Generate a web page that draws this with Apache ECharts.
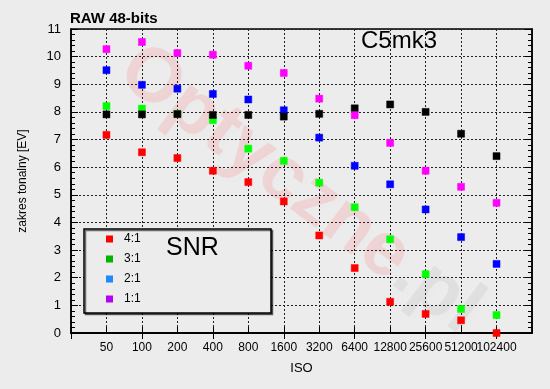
<!DOCTYPE html>
<html>
<head>
<meta charset="utf-8">
<script src="https://cdn.jsdelivr.net/npm/echarts@6/dist/echarts.min.js"></script>
<style>html,body{margin:0;padding:0;background:#ececec;}#c{width:550px;height:389px;}</style>
</head>
<body>
<div id="c"></div>
<script>
const isoLabels = ['50','100','200','400','800','1600','3200','6400','12800','25600','51200','102400'];
const snr41 = [7.17, 6.54, 6.33, 5.87, 5.46, 4.76, 3.53, 2.35, 1.13, 0.69, 0.46, 0.00];
const snr31 = [8.21, 8.12, 7.93, 7.70, 6.67, 6.23, 5.44, 4.55, 3.39, 2.13, 0.87, 0.65];
const snr21 = [9.51, 8.98, 8.84, 8.65, 8.45, 8.06, 7.07, 6.05, 5.38, 4.47, 3.47, 2.50];
const snr11 = [10.27, 10.53, 10.13, 10.07, 9.67, 9.41, 8.48, 7.88, 6.88, 5.87, 5.29, 4.71];
const snrBlack = [7.91, 7.91, 7.92, 7.89, 7.89, 7.83, 7.93, 8.13, 8.27, 8.00, 7.21, 6.40];
const yTicks = [0,1,2,3,4,5,6,7,8,9,10,11];

const cats = [''].concat(isoLabels).concat(['']);
const toPts = arr => arr.map((v, i) => [i + 1, v]);
const font = 'Liberation Sans, Arial, sans-serif';

const chart = echarts.init(document.getElementById('c'), null, {renderer: 'canvas'});
const mk = (name, data, color, z) => ({
  name, type: 'scatter', data: toPts(data), symbol: 'rect', symbolSize: 7,
  itemStyle: {color, borderColor: color, borderWidth: 0.5, opacity: 1}, z, silent: true
});
const gridLine = {show: true, lineStyle: {color: '#222', type: [2, 2], width: 1}};
chart.setOption({
  backgroundColor: '#ececec',
  animation: false,
  textStyle: {fontFamily: font},
  grid: {left: 71, right: 18, top: 29, bottom: 56, show: true, borderColor: '#000', borderWidth: 1.5, backgroundColor: 'transparent'},
  title: {text: 'RAW 48-bits', left: 70, top: 11, padding: 0,
    textStyle: {fontSize: 15, fontWeight: 'bold', color: '#000', fontFamily: font}},
  xAxis: [{
    type: 'category', data: cats, boundaryGap: false, position: 'bottom',
    name: 'ISO', nameLocation: 'middle', nameGap: 29,
    nameTextStyle: {fontSize: 13, color: '#000', fontFamily: font},
    axisLine: {lineStyle: {color: '#000', width: 1.5}},
    axisTick: {show: true, inside: true, length: 6, lineStyle: {color: '#000'}},
    axisLabel: {color: '#000', fontSize: 12, margin: 9, interval: 0, fontFamily: font},
    splitLine: gridLine
  }, {
    type: 'category', data: cats, boundaryGap: false, position: 'top',
    axisLine: {lineStyle: {color: '#000', width: 1.5}},
    axisTick: {show: true, inside: true, length: 6, lineStyle: {color: '#000'}},
    axisLabel: {show: false}, splitLine: {show: false}
  }],
  yAxis: [{
    type: 'value', min: 0, max: 11, interval: 1, position: 'left',
    name: 'zakres tonalny [EV]', nameLocation: 'middle', nameGap: 42, nameRotate: 90,
    nameTextStyle: {fontSize: 12, color: '#000', fontFamily: font},
    axisLine: {show: true, lineStyle: {color: '#000', width: 1.5}},
    axisTick: {show: true, inside: true, length: 7, lineStyle: {color: '#000'}},
    minorTick: {show: true, splitNumber: 5, length: 4, lineStyle: {color: '#000'}},
    axisLabel: {color: '#000', fontSize: 13, margin: 10, fontFamily: font,
      formatter: v => yTicks.includes(v) ? String(v) : ''},
    splitLine: gridLine
  }, {
    type: 'value', min: 0, max: 11, interval: 1, position: 'right',
    axisLine: {show: true, lineStyle: {color: '#000', width: 1.5}},
    axisTick: {show: true, inside: true, length: 7, lineStyle: {color: '#000'}},
    minorTick: {show: true, splitNumber: 5, length: 4, lineStyle: {color: '#000'}},
    axisLabel: {show: false}, splitLine: {show: false}
  }],
  legend: {
    orient: 'vertical', left: 106, top: 233, itemWidth: 7, itemHeight: 7, itemGap: 8,
    icon: 'rect', selectedMode: false, padding: 0, z: 20,
    textStyle: {fontSize: 12, color: '#000', fontFamily: font, padding: [0, 0, 0, 6]},
    data: [
      {name: '4:1', itemStyle: {color: '#ff0000', borderWidth: 0}},
      {name: '3:1', itemStyle: {color: '#00b400', borderWidth: 0}},
      {name: '2:1', itemStyle: {color: '#1e88ff', borderWidth: 0}},
      {name: '1:1', itemStyle: {color: '#b400f5', borderWidth: 0}}
    ]
  },
  graphic: [
    {type: 'text', z: 1, silent: true, position: [300, 190], rotation: -0.64,
      style: {
        text: '{r|Optyczne}{g|.pl}', align: 'center', verticalAlign: 'middle',
        rich: {
          r: {fontSize: 76, fontWeight: 'bold', fontFamily: font, fill: 'rgba(255,0,0,0.1)',
            textShadowColor: 'rgba(0,0,0,0.08)', textShadowBlur: 6, textShadowOffsetX: 4, textShadowOffsetY: 5},
          g: {fontSize: 76, fontWeight: 'bold', fontFamily: font, fill: 'rgba(110,110,110,0.09)',
            textShadowColor: 'rgba(0,0,0,0.07)', textShadowBlur: 6, textShadowOffsetX: 4, textShadowOffsetY: 5}
        }
      }},
    {type: 'rect', z: 15, silent: true, shape: {x: 84, y: 229, width: 187, height: 84},
      style: {fill: '#ececec', stroke: '#000', lineWidth: 1.5,
        shadowColor: 'rgba(0,0,0,0.55)', shadowOffsetX: 1.5, shadowOffsetY: 1.5, shadowBlur: 0}},
    {type: 'text', z: 16, silent: true, position: [166, 248],
      style: {text: 'SNR', fontSize: 25, fontFamily: font, fill: '#000', verticalAlign: 'middle'}},
    {type: 'text', z: 16, silent: true, position: [361, 41],
      style: {text: 'C5mk3', fontSize: 24, fontFamily: font, fill: '#000', verticalAlign: 'middle'}}
  ],
  series: [
    mk('4:1', snr41, '#ff0000', 5),
    mk('3:1', snr31, '#00ff00', 6),
    mk('2:1', snr21, '#0000ff', 7),
    mk('SNR 0.5', snrBlack, '#000000', 8),
    mk('1:1', snr11, '#ff00ff', 9)
  ]
});
</script>
</body>
</html>
